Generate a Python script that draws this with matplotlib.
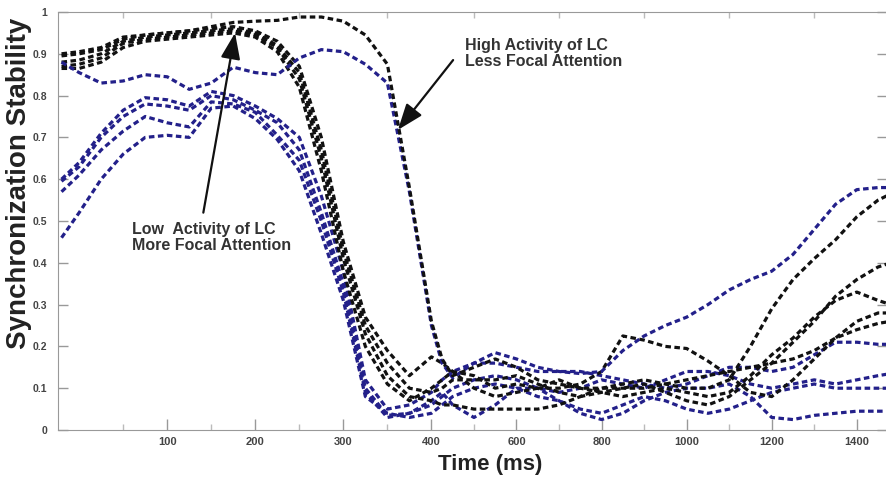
#Synchronization stability curves for low / high LC activity

import numpy as np
import matplotlib
matplotlib.use('Agg')
from matplotlib import pyplot as plt

plt.rcParams['font.family'] = ['Liberation Sans', 'DejaVu Sans']
plt.rcParams['lines.scale_dashes'] = False

#sample times (ms)
time_ms = [-20, 0, 25, 50, 75, 100, 125, 150, 175, 200, 225, 250, 275, 300, 325, 350, 375, 400, 425, 450,
           500, 550, 600, 650, 700, 750, 800, 850, 900, 950, 1000, 1050, 1100, 1150, 1200, 1250, 1300, 1350,
           1400, 1450, 1480]

#black curves
black_high = [0.895, 0.9, 0.91, 0.935, 0.945, 0.95, 0.955, 0.965, 0.975, 0.978, 0.98, 0.988, 0.988, 0.978, 0.945,
              0.875, 0.58, 0.26, 0.17, 0.13, 0.15, 0.17, 0.15, 0.12, 0.11, 0.10, 0.09, 0.08, 0.09, 0.10, 0.09,
              0.08, 0.09, 0.13, 0.18, 0.22, 0.27, 0.31, 0.33, 0.31, 0.30]
black_1 = [0.90, 0.905, 0.915, 0.94, 0.945, 0.95, 0.955, 0.96, 0.965, 0.955, 0.93, 0.87, 0.70, 0.45, 0.27, 0.19,
           0.13, 0.175, 0.16, 0.14, 0.10, 0.08, 0.09, 0.10, 0.12, 0.10, 0.10, 0.11, 0.12, 0.11, 0.10, 0.10, 0.12,
           0.20, 0.29, 0.36, 0.41, 0.455, 0.51, 0.55, 0.565]
black_2 = [0.88, 0.885, 0.90, 0.93, 0.94, 0.945, 0.95, 0.955, 0.96, 0.95, 0.92, 0.855, 0.67, 0.43, 0.25, 0.16,
           0.10, 0.09, 0.10, 0.12, 0.12, 0.12, 0.13, 0.11, 0.09, 0.08, 0.09, 0.10, 0.11, 0.09, 0.07, 0.06, 0.08,
           0.12, 0.16, 0.21, 0.26, 0.32, 0.36, 0.39, 0.40]
black_3 = [0.87, 0.875, 0.89, 0.925, 0.935, 0.94, 0.945, 0.95, 0.955, 0.945, 0.915, 0.84, 0.65, 0.41, 0.23, 0.13,
           0.08, 0.07, 0.06, 0.06, 0.05, 0.05, 0.05, 0.05, 0.06, 0.08, 0.10, 0.10, 0.10, 0.11, 0.12, 0.13, 0.14,
           0.15, 0.16, 0.17, 0.19, 0.22, 0.24, 0.255, 0.26]
black_4 = [0.865, 0.865, 0.88, 0.915, 0.93, 0.935, 0.94, 0.945, 0.95, 0.94, 0.905, 0.82, 0.62, 0.38, 0.20, 0.11,
           0.07, 0.10, 0.12, 0.14, 0.13, 0.10, 0.11, 0.10, 0.10, 0.11, 0.14, 0.225, 0.215, 0.20, 0.195, 0.165,
           0.13, 0.09, 0.08, 0.12, 0.17, 0.22, 0.26, 0.28, 0.28]

#blue curves
blue_high = [0.88, 0.855, 0.83, 0.835, 0.85, 0.845, 0.815, 0.83, 0.868, 0.855, 0.85, 0.89, 0.91, 0.905, 0.875,
             0.83, 0.57, 0.25, 0.16, 0.125, 0.16, 0.185, 0.17, 0.15, 0.14, 0.135, 0.14, 0.19, 0.225, 0.25, 0.27,
             0.30, 0.335, 0.36, 0.38, 0.42, 0.48, 0.54, 0.575, 0.58, 0.58]
blue_1 = [0.60, 0.64, 0.71, 0.765, 0.795, 0.79, 0.775, 0.81, 0.80, 0.775, 0.745, 0.70, 0.56, 0.38, 0.12, 0.05,
          0.06, 0.09, 0.12, 0.14, 0.16, 0.16, 0.15, 0.14, 0.14, 0.14, 0.13, 0.12, 0.11, 0.10, 0.11, 0.13, 0.15,
          0.15, 0.14, 0.15, 0.18, 0.21, 0.21, 0.205, 0.205]
blue_2 = [0.595, 0.63, 0.70, 0.75, 0.78, 0.775, 0.765, 0.80, 0.79, 0.765, 0.735, 0.67, 0.52, 0.35, 0.10, 0.035,
          0.04, 0.06, 0.08, 0.10, 0.12, 0.13, 0.12, 0.10, 0.09, 0.10, 0.12, 0.11, 0.10, 0.12, 0.14, 0.14, 0.13,
          0.11, 0.10, 0.11, 0.12, 0.11, 0.12, 0.13, 0.135]
blue_3 = [0.57, 0.61, 0.67, 0.715, 0.75, 0.735, 0.725, 0.785, 0.78, 0.76, 0.705, 0.645, 0.50, 0.33, 0.09, 0.03,
          0.04, 0.07, 0.09, 0.06, 0.03, 0.06, 0.10, 0.10, 0.07, 0.04, 0.025, 0.04, 0.07, 0.09, 0.10, 0.10, 0.11,
          0.08, 0.03, 0.025, 0.035, 0.04, 0.045, 0.045, 0.045]
blue_4 = [0.46, 0.52, 0.60, 0.66, 0.70, 0.705, 0.70, 0.77, 0.775, 0.745, 0.695, 0.62, 0.47, 0.31, 0.08, 0.04,
          0.03, 0.04, 0.06, 0.08, 0.10, 0.11, 0.10, 0.08, 0.07, 0.05, 0.04, 0.06, 0.08, 0.07, 0.05, 0.04, 0.05,
          0.07, 0.09, 0.10, 0.11, 0.10, 0.10, 0.10, 0.10]

xtick_ms = [100, 200, 300, 400, 600, 800, 1000, 1200, 1400]
xminor_ms = [50, 150, 250, 350, 500, 700, 900, 1100, 1300]
yticks = [0, 0.1, 0.2, 0.3, 0.4, 0.5, 0.6, 0.7, 0.8, 0.9, 1]
ytick_labels = ['0', '0.1', '0.2', '0.3', '0.4', '0.5', '0.6', '0.7', '0.8', '0.9', '1']

#time axis is compressed after 400 ms
def fwd(x):
    x = np.asarray(x, dtype=float)
    return np.where(x <= 400, x, 400 + (x - 400) * 0.483)

def inv(u):
    u = np.asarray(u, dtype=float)
    return np.where(u <= 400, u, 400 + (u - 400) / 0.483)

fig = plt.figure(figsize=(8.87, 4.78), dpi=100)
ax = fig.add_axes([0.0654, 0.1004, 0.9346, 0.8745])
ax.set_xscale('function', functions=(fwd, inv))

black = '#111111'
blue = '#23208a'
style = dict(lw=2.3, ls=(0, (4, 2.5)))

curves = [(blue_4, blue), (blue_3, blue), (blue_2, blue), (blue_1, blue),
          (black_4, black), (black_3, black), (black_2, black), (black_1, black),
          (blue_high, blue), (black_high, black)]
for vals, col in curves:
    ax.plot(time_ms, vals, color=col, **style)

ax.set_xlim(-24, 1471)
ax.set_ylim(0, 1)

ax.set_xticks(xtick_ms)
ax.set_xticklabels([str(v) for v in xtick_ms])
ax.set_xticks(xminor_ms, minor=True)
ax.set_yticks(yticks)
ax.set_yticklabels(ytick_labels)

ax.tick_params(axis='x', which='major', direction='in', length=8, width=1, color='#999999',
               labelsize=8, labelcolor='#444444', pad=5)
ax.tick_params(axis='x', which='minor', direction='in', length=4, width=1, color='#bbbbbb',
               top=True, bottom=True)
ax.tick_params(axis='y', direction='in', length=7, width=1, color='#999999', left=True, right=True,
               labelsize=7.5, labelcolor='#444444', pad=8)
for lbl in ax.get_xticklabels() + ax.get_yticklabels():
    lbl.set_fontweight('bold')

for side in ['left', 'bottom', 'top']:
    ax.spines[side].set_color('#999999')
ax.spines['right'].set_visible(False)

ax.set_ylabel('Synchronization Stability', fontsize=20, fontweight='bold', color='#222222')
ax.yaxis.set_label_coords(-0.031, 0.589)
ax.set_xlabel('Time (ms)', fontsize=16, fontweight='bold', color='#222222')
ax.xaxis.set_label_coords(0.521, -0.058)

#annotations
arrow = dict(arrowstyle='-|>,head_length=0.8,head_width=0.3', lw=1.6, color=black,
             shrinkA=0, shrinkB=0, mutation_scale=20)
ax.annotate('', xy=(177, 0.95), xytext=(141, 0.52), arrowprops=arrow)
ax.text(60, 0.46, 'Low  Activity of LC\nMore Focal Attention', fontsize=11.5, fontweight='bold',
        color='#333333', ha='left', va='center', linespacing=1.05)
ax.annotate('', xy=(362, 0.718), xytext=(451, 0.885), arrowprops=arrow)
ax.text(479, 0.90, 'High Activity of LC\nLess Focal Attention', fontsize=11.5, fontweight='bold',
        color='#333333', ha='left', va='center', linespacing=1.05)

fig.savefig('out.png', dpi=100)
